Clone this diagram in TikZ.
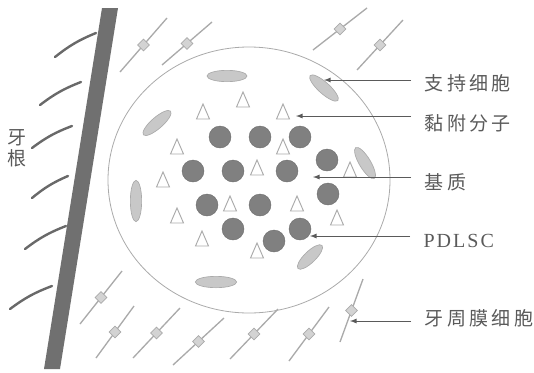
\documentclass[tikz,border=0pt]{standalone}
\usepackage{fontspec}
\setmainfont{Liberation Serif}
\newfontfamily\cjk[LetterSpace=18]{Noto Sans CJK SC}
\usetikzlibrary{shapes,arrows}

\definecolor{rootgray}{RGB}{112,112,112}
\definecolor{fibregray}{RGB}{105,105,105}
\definecolor{cellgray}{RGB}{128,128,128}
\definecolor{supportgray}{RGB}{200,200,200}
\definecolor{linegray}{RGB}{170,170,170}
\definecolor{textgray}{RGB}{90,90,90}

\tikzset{
  body/.style={ellipse, draw=linegray, line width=0.6pt, minimum width=211.5pt, minimum height=199.5pt, inner sep=0pt},
  pdlsc/.style={circle, fill=cellgray, draw=cellgray!85!black, line width=0.3pt, minimum size=16.5pt, inner sep=0pt},
  support/.style={ellipse, fill=supportgray, draw=linegray, line width=0.5pt, minimum height=8.5pt, inner sep=0pt},
  adhesive/.style={draw=linegray, fill=white, line width=0.7pt},
  fibre/.style={draw=linegray, line width=1pt},
  knot/.style={diamond, fill=supportgray!80!white, draw=linegray, line width=0.6pt, minimum size=9pt, inner sep=0pt},
  gumline/.style={draw=fibregray, line width=1.8pt, line cap=round},
  pointer/.style={draw=textgray, line width=0.7pt, -latex},
  tag/.style={anchor=west, text=textgray, inner xsep=10pt, inner ysep=0pt, font=\cjk\fontsize{14.25}{16}\selectfont}
}

\begin{document}
\begin{tikzpicture}[x=0.75pt,y=0.75pt,yscale=-1,xscale=1]
    \useasboundingbox (0,0) rectangle (534,372);

    %Root surface
    \fill [rootgray] (102,8) -- (118,8) -- (60,369) -- (44,369) -- cycle;
    %Fibres on the root side
    \foreach \ax/\ay/\bx/\by in {55/57/96/33, 40/105/81/82, 32/148/72/126, 32/198/68/176, 25/249/66/226, 10/309/52/286}
        \draw [gumline] (\ax,\ay) to[bend right=8] (\bx,\by);
    % Text Node
    \node [text=textgray, align=center, font=\cjk\fontsize{14.25}{16}\selectfont] (root) at (17,148) {牙\\根};

    %Matrix
    \node [body] (matrix) at (249,180) {};

    %Support cells
    \node [support, minimum width=30pt] (s1) at (227,76) {};
    \node [support, minimum width=28pt, rotate=-42] (s2) at (324,88) {};
    \node [support, minimum width=27pt, rotate=41] (s3) at (157,123) {};
    \node [support, minimum width=27pt, rotate=-59] (s4) at (365,163) {};
    \node [support, minimum width=31pt, rotate=90] (s5) at (136,201) {};
    \node [support, minimum width=25pt, rotate=44] (s6) at (310,257) {};
    \node [support, minimum width=31pt] (s7) at (216,282) {};

    %Adhesion molecules
    \foreach \x/\y in {243/100, 203/112, 283/112, 177/147, 283/147, 163/180, 257/168, 350/170, 230/204, 297/204, 177/216, 337/218, 202/239, 257/251}
        \draw [adhesive] (\x,\y) ++(0,-8) -- ++(6.5,15) -- ++(-13,0) -- cycle;

    %PDLSC
    \foreach \x/\y [count=\i] in {220/137, 260/137, 300/137, 327/160, 193/171, 233/171, 287/171, 207/205, 260/205, 328/194, 233/229, 274/241, 300/229}
        \node [pdlsc] (c\i) at (\x,\y) {};

    %Periodontal ligament fibres
    \foreach \ax/\ay/\bx/\by [count=\i] in {120/72/167/18, 162/65/212/22, 313/50/367/8, 357/70/403/20, 80/324/122/271, 96/358/134/306, 133/358/180/308, 173/365/224/318, 230/359/278/309, 289/361/329/307, 340/342/363/279}
        \draw [fibre] (\ax,\ay) -- node [knot] (k\i) {} (\bx,\by);

    %Arrow tips
    \coordinate (tipsupport) at (324,80);
    \coordinate (tipadhesion) at (296,116);
    \coordinate (tipmatrix) at (313,177);
    \coordinate (tipcell) at (310,236);
    \coordinate (tipfibro) at (350,321);

    % Text Node
    \node [tag] (lsupport) at (411,83) {支持细胞};
    % Text Node
    \node [tag] (ladhesion) at (411,123) {黏附分子};
    % Text Node
    \node [tag] (lmatrix) at (411,182) {基质};
    % Text Node
    \node [tag, font=\fontsize{15}{17}\selectfont\addfontfeatures{LetterSpace=10}] (lcell) at (410,241) {PDLSC};
    % Text Node
    \node [tag] (lfibro) at (411,318) {牙周膜细胞};

    \draw [pointer] (lsupport.west |- tipsupport) -- (tipsupport);
    \draw [pointer] (ladhesion.west |- tipadhesion) -- (tipadhesion);
    \draw [pointer] (lmatrix.west |- tipmatrix) -- (tipmatrix);
    \draw [pointer] (lcell.west |- tipcell) -- (tipcell);
    \draw [pointer] (lfibro.west |- tipfibro) -- (tipfibro);

\end{tikzpicture}
\end{document}
